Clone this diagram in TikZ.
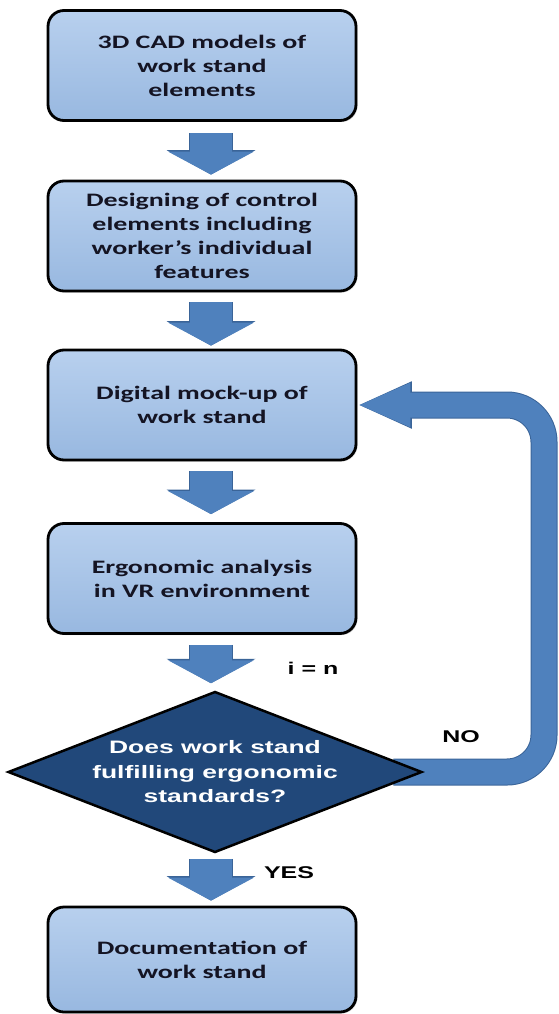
\documentclass[tikz,border=0pt]{standalone}
\usepackage{fontspec}
\usetikzlibrary{arrows.meta,shapes.geometric,shadows,backgrounds,calc}
\newfontfamily\boxfont{Carlito}[FakeStretch=1.47]
\newfontfamily\lblfont{Liberation Sans}[FakeStretch=1.47]
\definecolor{boxtop}{RGB}{184,208,238}
\definecolor{boxbot}{RGB}{152,184,224}
\definecolor{arrfill}{RGB}{79,129,189}
\definecolor{arredge}{RGB}{58,100,152}
\definecolor{diafill}{RGB}{33,72,122}
\definecolor{txt}{RGB}{20,20,35}
\begin{document}
\begin{tikzpicture}[x=1pt,y=-1pt,
  stepbox/.style={draw=black, line width=2.8pt, rounded corners=16pt,
    top color=boxtop, bottom color=boxbot,
    minimum width=308pt, minimum height=110pt, inner sep=0pt, align=center,
    font=\boxfont\bfseries\fontsize{19}{24}\selectfont, text=txt,
    drop shadow={shadow xshift=1.5pt, shadow yshift=-1.5pt, opacity=0.35}},
  decision/.style={diamond, draw=black, line width=2.5pt, fill=diafill,
    minimum width=414pt, minimum height=161pt, shape aspect=2.6, inner sep=0pt,
    align=center, text=white,
    font=\lblfont\bfseries\fontsize{18}{24.5}\selectfont},
  blockarr/.style={draw=arrfill, line width=42pt, -{Triangle[width=85pt,length=23pt]},
    preaction={draw=arredge, line width=44pt, -{Triangle[width=88pt,length=24.5pt]}}},
  loopline/.style={draw=arrfill, line width=25pt, rounded corners=37pt,
    -{Triangle[width=40pt,length=53pt]},
    preaction={draw=arredge, line width=27pt, rounded corners=37pt,
    -{Triangle[width=43pt,length=54.5pt]}}},
  lbl/.style={inner sep=0pt, text=black, font=\lblfont\bfseries\fontsize{17}{20}\selectfont}
]
\useasboundingbox (0,0) rectangle (559,1014);

\node[stepbox] (b1) at (202,65.5) {3D CAD models of\\work stand\\elements};
\node[stepbox] (b2) at (202,236) {Designing of control\\elements including\\worker’s individual\\features};
\node[stepbox] (b3) at (202,405) {Digital mock-up of\\work stand};
\node[stepbox] (b4) at (202,578.5) {Ergonomic analysis\\in VR environment};
\node[decision] (dia) at (215,772) {Does work stand\\fulfilling ergonomic\\standards?};
\node[stepbox, minimum height=105pt] (b5) at (202,959.5) {Documentation of\\work stand};

\draw[blockarr] ([xshift=9pt,yshift=-11pt]b1.south) -- ([xshift=9pt,yshift=5pt]b2.north);
\draw[blockarr] ([xshift=9pt,yshift=-10pt]b2.south) -- ([xshift=9pt,yshift=3pt]b3.north);
\draw[blockarr] ([xshift=9pt,yshift=-10pt]b3.south) -- ([xshift=9pt,yshift=8pt]b4.north);
\draw[blockarr] ([xshift=9pt,yshift=-10pt]b4.south) -- ([xshift=-4pt,yshift=7pt]dia.north);
\draw[blockarr] ([xshift=-4pt,yshift=-5pt]dia.south) -- ([xshift=9pt,yshift=5pt]b5.north);

\coordinate (loopx) at (544,772);
\begin{scope}[on background layer]
\draw[loopline] ([xshift=-30pt]dia.east) -- (dia.east -| loopx) -- (loopx |- b3.east) -- (b3.east);
\end{scope}

\node[lbl] (ilab) at (313,668) {i = n};
\node[lbl] (no) at (461,737) {NO};
\node[lbl] (yes) at (289,873) {YES};
\end{tikzpicture}
\end{document}
